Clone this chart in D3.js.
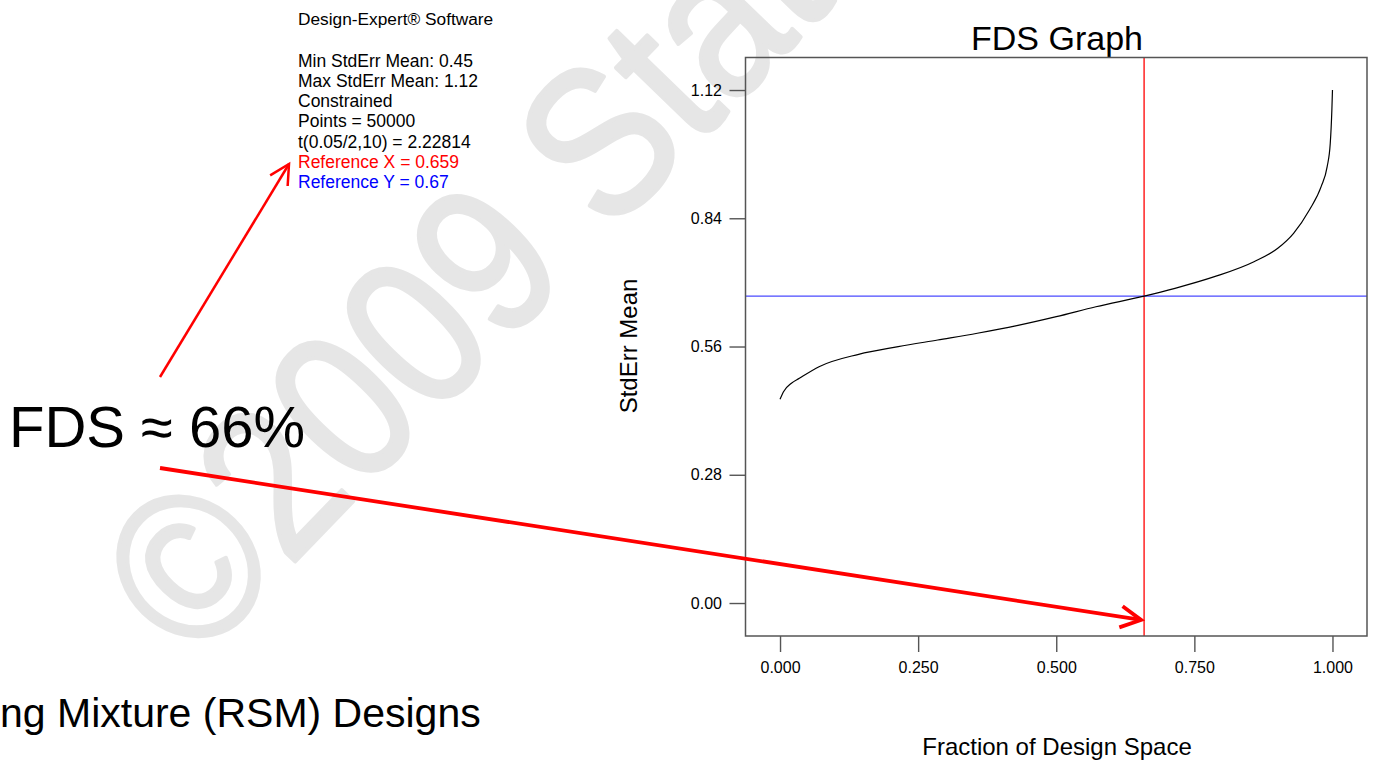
<!DOCTYPE html>
<html>
<head>
<meta charset="utf-8">
<script src="https://cdn.jsdelivr.net/npm/d3@7"></script>
<style>
  html, body { margin: 0; padding: 0; background: #ffffff; }
  svg { display: block; font-family: "Liberation Sans", Arial, sans-serif; }
</style>
</head>
<body>
<svg id="chart" width="1374" height="760"></svg>
<script>
// ---- Data ----
const fdsX = [0.000, 0.0063, 0.0206, 0.035, 0.0706, 0.1423, 0.2139, 0.2854, 0.3571, 0.4286,
              0.5001, 0.5718, 0.659, 0.7149, 0.7864, 0.8579, 0.901, 0.9296, 0.9582, 0.9795,
              0.9904, 0.996, 0.9989, 1.000];
const stdErrMean = [0.4448, 0.4614, 0.4797, 0.4906, 0.516, 0.543, 0.5596, 0.5742, 0.5889, 0.6055,
                    0.6251, 0.6469, 0.670, 0.6871, 0.7125, 0.7452, 0.7745, 0.8072, 0.8581, 0.909,
                    0.9526, 1.0037, 1.0764, 1.120];
const yTicks = [0.00, 0.28, 0.56, 0.84, 1.12];
const xTicks = [0.000, 0.250, 0.500, 0.750, 1.000];
const referenceX = 0.659;
const referenceY = 0.67;
const infoLines = [
  "Min StdErr Mean: 0.45",
  "Max StdErr Mean: 1.12",
  "Constrained",
  "Points = 50000",
  "t(0.05/2,10) = 2.22814"
];

// ---- Layout ----
const svg = d3.select("#chart");
const plot = { left: 745.5, right: 1367, top: 57.5, bottom: 636 };
const x = d3.scaleLinear().domain([-0.0625, 1.0625]).range([plot.left, plot.right]);
const y = d3.scaleLinear().domain([-0.072, 1.191]).range([plot.bottom, plot.top]);

// ---- Watermark ----
svg.append("text")
  .attr("transform", "translate(194,666) rotate(-46) scale(0.87,1)")
  .attr("font-size", 212)
  .attr("fill", "#e6e6e6")
  .attr("stroke", "#e6e6e6")
  .attr("stroke-width", 4)
  .attr("stroke-linejoin", "round")
  .attr("stroke-linecap", "round")
  .text("©2009 Stat-Ease");

// ---- Info text block ----
const info = svg.append("g").attr("font-size", 17.5).attr("fill", "#000");
info.append("text").attr("x", 298).attr("y", 25).attr("font-size", 17.3).text("Design-Expert® Software");
info.selectAll("text.line").data(infoLines).join("text")
  .attr("class", "line")
  .attr("x", 298)
  .attr("y", (d, i) => 66.5 + i * 20.3)
  .text(d => d);
info.append("text").attr("x", 298).attr("y", 66.5 + 5 * 20.3).attr("fill", "#ff0000")
  .text("Reference X = " + referenceX.toFixed(3));
info.append("text").attr("x", 298).attr("y", 66.5 + 6 * 20.3).attr("fill", "#0000ff")
  .text("Reference Y = " + referenceY.toFixed(2));

// ---- Big annotation text ----
svg.append("text").attr("x", 9).attr("y", 447).attr("font-size", 58).attr("fill", "#000")
  .text("FDS ≈ 66%");
svg.append("text").attr("x", 0).attr("y", 727).attr("font-size", 41).attr("fill", "#000")
  .text("ng Mixture (RSM) Designs");

// ---- Chart ----
svg.append("text").attr("x", 1057).attr("y", 50).attr("text-anchor", "middle")
  .attr("font-size", 34).attr("fill", "#000").text("FDS Graph");

// reference lines
svg.append("line")
  .attr("x1", x(referenceX)).attr("x2", x(referenceX))
  .attr("y1", plot.top).attr("y2", plot.bottom)
  .attr("stroke", "#ff0000").attr("stroke-width", 1.3);
svg.append("line")
  .attr("x1", plot.left).attr("x2", plot.right)
  .attr("y1", y(referenceY)).attr("y2", y(referenceY))
  .attr("stroke", "#4a4aff").attr("stroke-width", 1.4);

// curve
const pts = fdsX.map((v, i) => [v, stdErrMean[i]]);
svg.append("path")
  .datum(pts)
  .attr("fill", "none")
  .attr("stroke", "#000")
  .attr("stroke-width", 1.2)
  .attr("d", d3.line().x(d => x(d[0])).y(d => y(d[1])).curve(d3.curveMonotoneX));

// axes
const yAxis = svg.append("g")
  .attr("transform", `translate(${plot.left},0)`)
  .call(d3.axisLeft(y).tickValues(yTicks).tickFormat(d3.format(".2f")).tickSize(16).tickPadding(7.5));
const xAxis = svg.append("g")
  .attr("transform", `translate(0,${plot.bottom})`)
  .call(d3.axisBottom(x).tickValues(xTicks).tickFormat(d3.format(".3f")).tickSize(16).tickPadding(10));
[xAxis, yAxis].forEach(g => {
  g.select(".domain").remove();
  g.selectAll(".tick line").attr("stroke", "#555").attr("stroke-width", 1.4);
  g.selectAll(".tick text").attr("font-size", 16).attr("fill", "#000")
    .attr("font-family", "'Liberation Sans', Arial, sans-serif");
});

// frame
svg.append("rect")
  .attr("x", plot.left).attr("y", plot.top)
  .attr("width", plot.right - plot.left).attr("height", plot.bottom - plot.top)
  .attr("fill", "none").attr("stroke", "#555").attr("stroke-width", 1.5);

// axis titles
svg.append("text").attr("x", 1057).attr("y", 755).attr("text-anchor", "middle")
  .attr("font-size", 24).attr("fill", "#000").text("Fraction of Design Space");
svg.append("text").attr("transform", "translate(637,346) rotate(-90)").attr("text-anchor", "middle")
  .attr("font-size", 24).attr("fill", "#000").text("StdErr Mean");

// ---- Arrows ----
function arrow(from, to, width, head) {
  const ang = Math.atan2(to[1] - from[1], to[0] - from[0]);
  const spread = Math.PI / 6.5;
  const g = svg.append("g").attr("stroke", "#ff0000").attr("stroke-width", width)
    .attr("fill", "none").attr("stroke-linecap", "butt");
  g.append("line").attr("x1", from[0]).attr("y1", from[1]).attr("x2", to[0]).attr("y2", to[1]);
  const p = d3.path();
  p.moveTo(to[0] - head * Math.cos(ang - spread), to[1] - head * Math.sin(ang - spread));
  p.lineTo(to[0], to[1]);
  p.lineTo(to[0] - head * Math.cos(ang + spread), to[1] - head * Math.sin(ang + spread));
  g.append("path").attr("d", p.toString()).attr("stroke-linejoin", "miter");
}
arrow([160, 377], [289, 164], 2.5, 22);
arrow([160, 468], [x(referenceX) - 3, y(-0.037)], 3.8, 23);
</script>
</body>
</html>
